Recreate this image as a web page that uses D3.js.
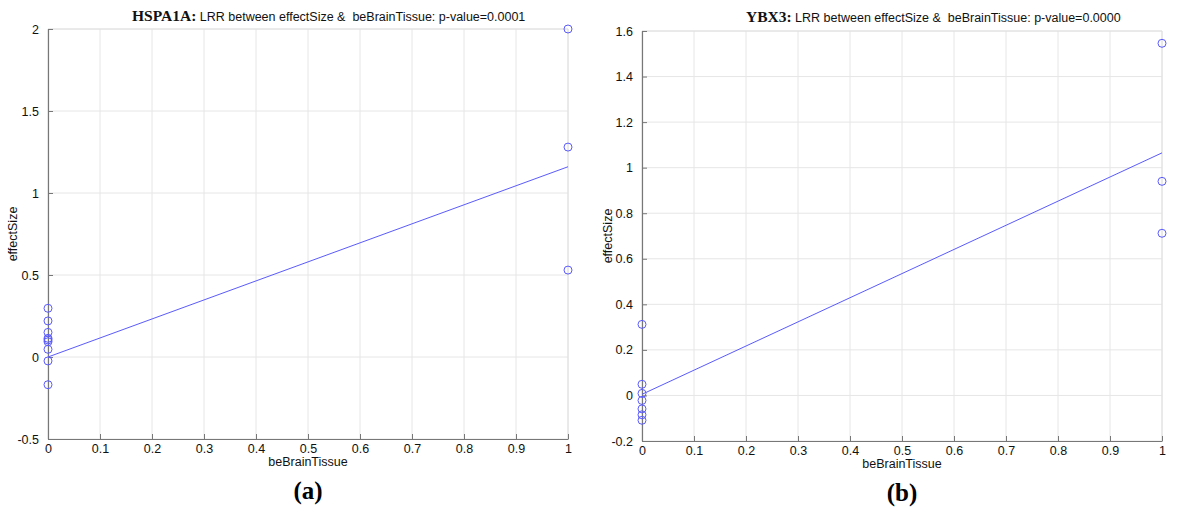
<!DOCTYPE html>
<html><head><meta charset="utf-8">
<script src="https://cdn.jsdelivr.net/npm/d3@7"></script>
<style>body{margin:0;background:#fff}svg{display:block}</style>
</head><body>
<svg id="c" width="1200" height="524"></svg>
<script>
// ---- data ----
const genes = ["HSPA1A", "YBX3"];
const panelLabels = ["(a)", "(b)"];
const xTicks = [0, 0.1, 0.2, 0.3, 0.4, 0.5, 0.6, 0.7, 0.8, 0.9, 1];
const yTicksA = [-0.5, 0, 0.5, 1, 1.5, 2];
const yTicksB = [-0.2, 0, 0.2, 0.4, 0.6, 0.8, 1, 1.2, 1.4, 1.6];
const pValues = ["0.0001", "0.0000"];
const xA = [1, 1, 1, 0, 0, 0, 0, 0, 0, 0, 0, 0];
const yA = [2.0, 1.28, 0.53, 0.297, 0.22, 0.15, 0.114, 0.104, 0.093, 0.047, -0.024, -0.169];
const xB = [1, 1, 1, 0, 0, 0, 0, 0, 0, 0];
const yB = [1.546, 0.94, 0.712, 0.312, 0.049, 0.009, -0.022, -0.059, -0.085, -0.109];
const fitA = [0.0, 1.16];   // value at x=0, x=1
const fitB = [0.005, 1.065];

const svg = d3.select("#c");
const blue = "#5a5aff";
const sans = "Liberation Sans, Arial, sans-serif";
const serif = "Liberation Serif, Times New Roman, serif";

const panels = [
  {gene: genes[0], p: pValues[0], lab: panelLabels[0], xs: xA, ys: yA, fit: fitA, yTicks: yTicksA,
   left: 48, right: 568, top: 29, bottom: 439, titleX: 132, titleY: 21, ylabX: 17},
  {gene: genes[1], p: pValues[1], lab: panelLabels[1], xs: xB, ys: yB, fit: fitB, yTicks: yTicksB,
   left: 642, right: 1162, top: 31, bottom: 441, titleX: 746, titleY: 22, ylabX: 612}
];

panels.forEach(P => {
  const x = d3.scaleLinear().domain([0, 1]).range([P.left, P.right]);
  const y = d3.scaleLinear().domain(d3.extent(P.yTicks)).range([P.bottom, P.top]);
  const g = svg.append("g");

  // grid
  g.append("g").selectAll("line").data(xTicks).join("line")
    .attr("x1", d => x(d)).attr("x2", d => x(d)).attr("y1", P.top).attr("y2", P.bottom)
    .attr("stroke", "#e6e6e6").attr("stroke-width", 1);
  g.append("g").selectAll("line").data(P.yTicks).join("line")
    .attr("x1", P.left).attr("x2", P.right).attr("y1", d => y(d)).attr("y2", d => y(d))
    .attr("stroke", "#e6e6e6").attr("stroke-width", 1);

  // box top/right light
  g.append("line").attr("x1", P.left).attr("x2", P.right).attr("y1", P.top).attr("y2", P.top).attr("stroke", "#e0e0e0");
  g.append("line").attr("x1", P.right).attr("x2", P.right).attr("y1", P.top).attr("y2", P.bottom).attr("stroke", "#e0e0e0");

  // axes
  const fmt = d => String(d);
  const xAxis = d3.axisBottom(x).tickValues(xTicks).tickFormat(fmt).tickSizeInner(-5).tickSizeOuter(0).tickPadding(9);
  const yAxis = d3.axisLeft(y).tickValues(P.yTicks).tickFormat(fmt).tickSizeInner(-5).tickSizeOuter(0).tickPadding(9);
  const gx = g.append("g").attr("transform", `translate(0,${P.bottom})`).call(xAxis);
  const gy = g.append("g").attr("transform", `translate(${P.left},0)`).call(yAxis);
  [gx, gy].forEach(a => {
    a.select(".domain").attr("stroke", "#777").attr("stroke-width", 1.2);
    a.selectAll(".tick line").attr("stroke", "#777");
    a.selectAll("text").attr("font-family", sans).attr("font-size", 12.5).attr("fill", "#111");
  });
  gx.selectAll("text").attr("dy", "0.4em");

  // fit line
  g.append("line").attr("x1", x(0)).attr("y1", y(P.fit[0])).attr("x2", x(1)).attr("y2", y(P.fit[1]))
    .attr("stroke", blue).attr("stroke-width", 1);

  // points
  g.append("g").selectAll("circle").data(P.xs.map((v, i) => [v, P.ys[i]])).join("circle")
    .attr("cx", d => x(d[0])).attr("cy", d => y(d[1])).attr("r", 4)
    .attr("fill", "none").attr("stroke", blue).attr("stroke-width", 1);

  // title
  const t = g.append("text").attr("x", P.titleX).attr("y", P.titleY).attr("fill", "#111");
  t.append("tspan").text(P.gene + ":").attr("font-family", serif)
    .attr("font-weight", "bold").attr("font-size", 15.5);
  t.append("tspan").text(" LRR between effectSize &  beBrainTissue: p-value=" + P.p)
    .attr("font-family", sans).attr("font-size", 12.5).attr("xml:space", "preserve");

  // axis labels
  g.append("text").attr("x", (P.left + P.right) / 2).attr("y", P.bottom + 27).attr("text-anchor", "middle")
    .attr("font-family", sans).attr("font-size", 12.5).attr("fill", "#111").text("beBrainTissue");
  g.append("text").attr("transform", `translate(${P.ylabX},${(P.top + P.bottom) / 2}) rotate(-90)`).attr("text-anchor", "middle")
    .attr("font-family", sans).attr("font-size", 12.5).attr("fill", "#111").text("effectSize");

  // panel label
  g.append("text").attr("x", (P.left + P.right) / 2).attr("y", P.bottom + 60).attr("text-anchor", "middle")
    .attr("font-family", serif).attr("font-weight", "bold").attr("font-size", 25)
    .attr("fill", "#000").text(P.lab);
});
</script>
</body></html>
